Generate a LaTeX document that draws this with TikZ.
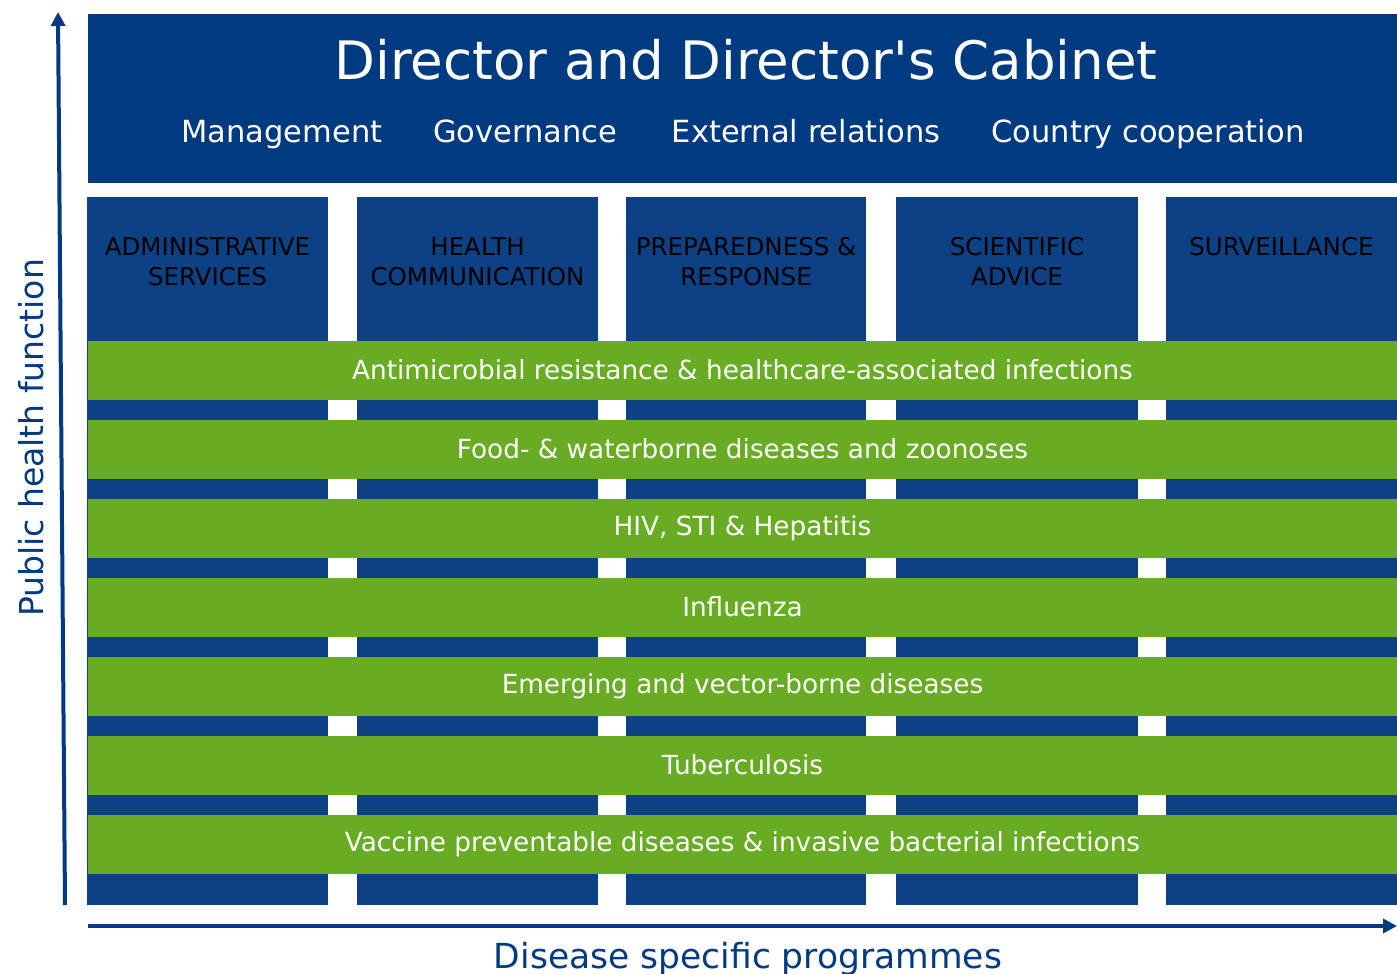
\documentclass[tikz,border=0pt]{standalone}
\usepackage{fontspec}
\setmainfont{DejaVu Sans}
\usetikzlibrary{arrows.meta,positioning}

\definecolor{cabinetblue}{HTML}{003A80}
\definecolor{unitblue}{HTML}{0E4183}
\definecolor{programgreen}{HTML}{68AC23}

\tikzset{
	cabinet/.style={fill=cabinetblue,draw=none,inner sep=0pt},
	unitbox/.style={fill=unitblue,draw=none,inner sep=0pt,anchor=north},
	unitlabel/.style={text=black,align=center,inner sep=0pt,font=\fontsize{24.5}{30}\selectfont},
	programband/.style={fill=programgreen,draw=none,inner sep=0pt,text=white,
		minimum width=1309pt,minimum height=59pt,font=\fontsize{26.3}{30}\selectfont},
	axisarrow/.style={draw=cabinetblue,line width=4pt,-{Triangle[length=14pt,width=14pt]}},
	axislabel/.style={text=cabinetblue}
}

\begin{document}
\begin{tikzpicture}[x=1pt,y=-1pt]
	\useasboundingbox (0,0) rectangle (1397,974);
	
	% 顶部
	\node[cabinet,minimum width=1309pt,minimum height=169pt] (cabinet) at (742.5,98.5) {};
	\node[text=white,anchor=base,font=\fontsize{53}{56}\selectfont] (director) at (746,80) {Director and Director\textquotesingle s Cabinet};
	\foreach \p/\x/\t in {mgmt/282/Management,gov/525/Governance,ext/806/External relations,coop/1148/Country cooperation}
	\node[text=white,anchor=base,font=\fontsize{30.5}{33}\selectfont] (\p) at (\x,142) {\t};
	
	% 各部门
	\foreach \p/\x/\w/\t in {admin/207.5/241/{ADMINISTRATIVE\\SERVICES},
		comm/477.5/241/{HEALTH\\COMMUNICATION},
		prep/746/240/{PREPAREDNESS \&\\RESPONSE},
		sci/1017/242/{SCIENTIFIC\\ADVICE},
		surv/1281.5/231/{SURVEILLANCE}}
	{
		\node[unitbox,minimum width=\w pt,minimum height=708pt] (\p) at (\x,197) {};
		\node[unitlabel,anchor=north] (\p-lbl) at (\x,237) {\t};
	}
	
	% 疾病项目
	\foreach \i/\t in {0/Antimicrobial resistance \& healthcare-associated infections,
		1/Food- \& waterborne diseases and zoonoses,
		2/{HIV, STI \& Hepatitis},
		3/Influenza,
		4/Emerging and vector-borne diseases,
		5/Tuberculosis,
		6/Vaccine preventable diseases \& invasive bacterial infections}
	\node[programband] (band\i) at (742.5,370+79*\i) {\t};
	
	% 坐标轴
	\coordinate (yfoot) at (65,905);
	\coordinate (ytip) at (58,12);
	\coordinate (xfoot) at (88,926);
	\coordinate (xtip) at (1397,926);
	\draw[axisarrow] (yfoot) -- (ytip);
	\draw[axisarrow] (xfoot) -- (xtip);
	\node[axislabel,rotate=90,font=\fontsize{33}{36}\selectfont] (yname) at (31,438) {Public health function};
	\node[axislabel,anchor=base,font=\fontsize{34.5}{38}\selectfont] (xname) at (748,968) {Disease specific programmes};
\end{tikzpicture}
\end{document}
